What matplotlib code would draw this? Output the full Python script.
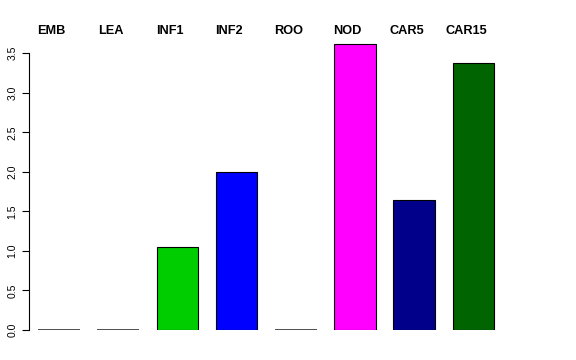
import matplotlib
matplotlib.use('Agg')
import matplotlib.pyplot as plt
import matplotlib.transforms as mtransforms
import numpy as np

plt.rcParams['font.family'] = ['Liberation Sans', 'DejaVu Sans']

# data
tissues = ['EMB', 'LEA', 'INF1', 'INF2', 'ROO', 'NOD', 'CAR5', 'CAR15']
values = [0.0, 0.0, 1.05, 2.0, 0.0, 3.62, 1.64, 3.38]
colors = ['#FF0000', '#FFA500', '#00CD00', '#0000FF', '#8B4513',
          '#FF00FF', '#00008B', '#006400']
yticks = [0.0, 0.5, 1.0, 1.5, 2.0, 2.5, 3.0, 3.5]

W, H = 576, 360
fig = plt.figure(figsize=(5.76, 3.6), dpi=100)
# axes placed so that x=-0.507 sits at 29px, y=0 at 330px from top
ax = fig.add_axes([29 / W, 30 / H, 8.507 * 59.2 / W, 3.8 * 79.1 / H])

x = np.arange(len(tissues))
ax.bar(x, values, width=0.7, color=colors, edgecolor='black', linewidth=0.8)
# empty bars show up as a flat line
zero = [i for i, v in enumerate(values) if v == 0]
ax.hlines([values[i] for i in zero], x[zero] - 0.35, x[zero] + 0.35,
          color='#333333', linewidth=1.2)

ax.set_xlim(-0.507, 8.0)
ax.set_ylim(0, 3.8)

for s in ['top', 'right', 'bottom']:
    ax.spines[s].set_visible(False)
ax.spines['left'].set_bounds(0, 3.5)
ax.spines['left'].set_linewidth(0.8)
ax.set_xticks([])
ax.set_yticks(yticks)
ax.set_yticklabels([f'{v:.1f}' for v in yticks], rotation=90, va='center',
                   fontsize=7.5)
ax.tick_params(axis='y', length=5, width=0.8, pad=3.5)

# tissue names across the top, a little left of each bar
trans = mtransforms.blended_transform_factory(ax.transData, fig.transFigure)
for xi, name in zip(x, tissues):
    ax.text(xi - 0.127, 1 - 30.5 / H, name, transform=trans,
            ha='center', va='center', fontsize=9.2, fontweight='bold')

fig.savefig('out.png', dpi=100)
